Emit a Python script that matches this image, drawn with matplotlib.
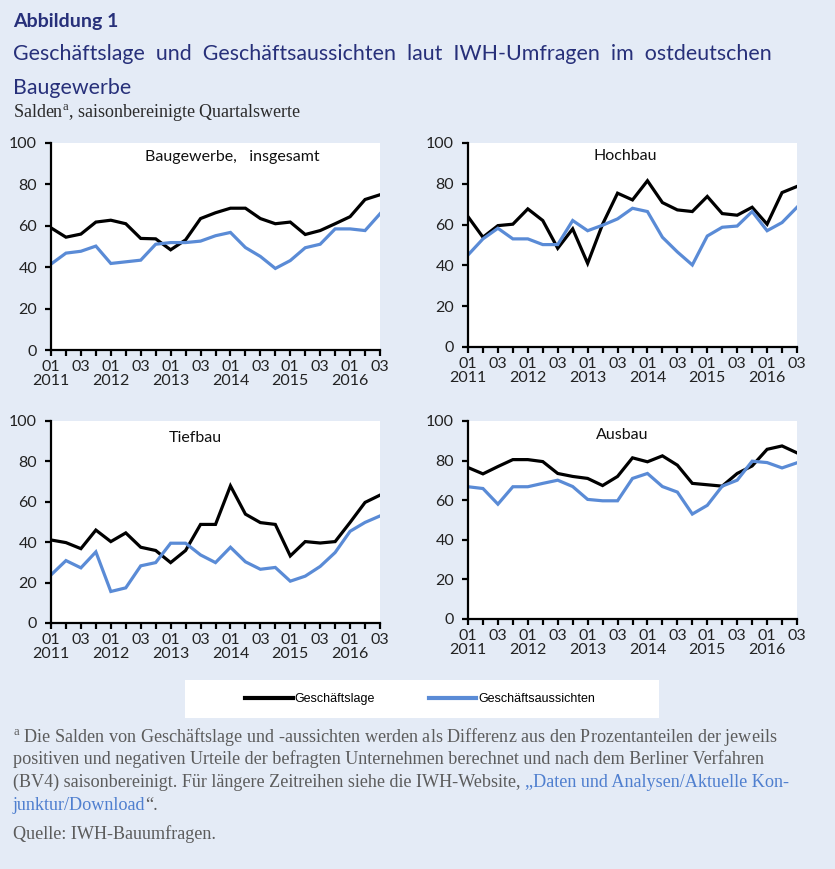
import numpy as np
import matplotlib.pyplot as plt
from matplotlib.patches import Rectangle

W, H = 835, 869

# Quartale 2011 Q1 bis 2016 Q3
quartale = ['2011Q1', '2011Q2', '2011Q3', '2011Q4', '2012Q1', '2012Q2', '2012Q3', '2012Q4',
            '2013Q1', '2013Q2', '2013Q3', '2013Q4', '2014Q1', '2014Q2', '2014Q3', '2014Q4',
            '2015Q1', '2015Q2', '2015Q3', '2015Q4', '2016Q1', '2016Q2', '2016Q3']
tick_labels = ['01\n2011', '03', '01\n2012', '03', '01\n2013', '03',
               '01\n2014', '03', '01\n2015', '03', '01\n2016', '03']

# Baugewerbe insgesamt
bau_lage = [59, 54.5, 56, 61.8, 62.7, 61, 53.9, 53.7, 48.4, 53.2, 63.5, 66.3,
            68.5, 68.5, 63.5, 61, 61.8, 55.8, 57.7, 61, 64.4, 72.7, 75]
bau_auss = [41.5, 46.8, 47.7, 50.2, 41.8, 42.6, 43.4, 51.1, 51.9, 51.9, 52.6, 55.2,
            56.8, 49.5, 45.2, 39.4, 43.2, 49.4, 51.1, 58.5, 58.5, 57.7, 65.8]
# Hochbau
hoch_lage = [63.9, 53.8, 59.5, 60.2, 67.7, 62, 48.4, 57.9, 41, 60.2, 75.4, 72.1,
             81.5, 70.8, 67.2, 66.4, 73.8, 65.4, 64.6, 68.5, 60.2, 75.7, 78.7]
hoch_auss = [45.1, 53, 58.2, 53, 53, 50.2, 50.2, 62, 57, 59.7, 62.8, 68,
             66.4, 53.8, 46.6, 40.2, 54.4, 58.7, 59.3, 66.4, 57, 61, 68.5]
# Tiefbau
tief_lage = [41.1, 39.8, 36.8, 46, 40.3, 44.6, 37.5, 35.9, 29.9, 35.9, 48.8, 48.8,
             67.9, 53.9, 49.7, 48.8, 33.2, 40.3, 39.6, 40.3, 49.8, 59.7, 63.3]
tief_auss = [23.8, 30.9, 27.3, 35.2, 15.6, 17.4, 28.3, 29.9, 39.5, 39.5, 33.7, 29.9,
             37.5, 30.3, 26.6, 27.5, 20.7, 23.2, 28, 34.9, 45.4, 49.8, 53]
# Ausbau
aus_lage = [76.5, 73.3, 77, 80.5, 80.5, 79.5, 73.5, 72, 71, 67.4, 72, 81.4,
            79.4, 82.4, 77.7, 68.5, 67.8, 67.1, 73.5, 77.3, 85.7, 87.4, 83.9]
aus_auss = [66.8, 65.9, 58, 66.8, 66.8, 68.5, 70.1, 66.9, 60.4, 59.7, 59.7, 71,
            73.5, 66.9, 64.1, 53, 57.4, 67.1, 70.1, 79.7, 79, 76.3, 78.9]

titel_panels = ['Baugewerbe,   insgesamt', 'Hochbau', 'Tiefbau', 'Ausbau']

BG = '#e4ebf6'
NAVY = '#27307a'
BLUE = '#5a8bd6'
GREY = '#5c5c5c'
LINK = '#4f7fcf'
SANS = ['Lato', 'DejaVu Sans']
SERIF = ['Liberation Serif', 'DejaVu Serif']

plt.rcParams['mathtext.fontset'] = 'custom'
plt.rcParams['mathtext.rm'] = 'Liberation Serif'


def px(x, y):
    return x / W, 1 - y / H


def panel(fig, box, lage, auss, titel, tpos):
    x0, y0, x1, y1 = box
    ax = fig.add_axes([x0 / W, 1 - y1 / H, (x1 - x0) / W, (y1 - y0) / H])
    ax.set_facecolor('white')
    x = np.arange(len(quartale))
    l1, = ax.plot(x, lage, color='black', lw=2.3, solid_joinstyle='miter')
    l2, = ax.plot(x, auss, color=BLUE, lw=2.3, solid_joinstyle='miter')
    ax.set_xlim(0, len(quartale) - 1)
    ax.set_ylim(0, 100)
    ax.set_yticks(np.arange(0, 101, 20))
    ax.set_xticks(x, minor=True)
    ax.set_xticks(x[::2], tick_labels)
    for s in ['top', 'right']:
        ax.spines[s].set_visible(False)
    for s in ['left', 'bottom']:
        ax.spines[s].set_linewidth(1.6)
    ax.tick_params(axis='both', which='both', direction='out', length=4, width=1.6,
                   labelsize=11.5, labelcolor='#222222')
    ax.tick_params(axis='x', pad=3)
    ax.tick_params(axis='y', pad=6)
    for lab in ax.get_xticklabels() + ax.get_yticklabels():
        lab.set_family(SANS)
        lab.set_linespacing(1.0)
    ax.text(tpos[0], tpos[1], titel, transform=ax.transAxes, ha='center', va='center',
            fontsize=11.5, family=SANS, color='#111111')
    return l1, l2


fig = plt.figure(figsize=(W / 100, H / 100), dpi=100, facecolor=BG)

# Ueberschriften
fig.text(*px(13, 22), 'Abbildung 1', fontsize=14, fontweight='bold', color=NAVY,
         family=SANS, va='center')
fig.text(*px(13, 54), 'Geschäftslage  und  Geschäftsaussichten  laut  IWH-Umfragen  im  ostdeutschen',
         fontsize=15.4, color=NAVY, family=SANS, va='center')
fig.text(*px(13, 88), 'Baugewerbe', fontsize=15.4, color=NAVY, family=SANS, va='center')
fig.text(*px(13, 113), r'Salden$^{\mathrm{a}}$, saisonbereinigte Quartalswerte', fontsize=13,
         color='#2b2b2b', family=SERIF, va='center')

l1, l2 = panel(fig, (51, 143, 380, 350), bau_lage, bau_auss, titel_panels[0], (0.55, 0.93))
panel(fig, (468, 143, 797, 347), hoch_lage, hoch_auss, titel_panels[1], (0.477, 0.937))
panel(fig, (51, 421, 380, 623), tief_lage, tief_auss, titel_panels[2], (0.44, 0.915))
panel(fig, (468, 421, 797, 619), aus_lage, aus_auss, titel_panels[3], (0.47, 0.928))

# Legende im weissen Kasten
fig.patches.append(Rectangle(px(185, 718), (659 - 185) / W, (718 - 680) / H,
                             transform=fig.transFigure, facecolor='white', edgecolor='none'))
leg = fig.legend([l1, l2], ['Geschäftslage', 'Geschäftsaussichten'], loc='center',
                 bbox_to_anchor=px(420, 699), ncol=2, frameon=False, handlelength=3.8,
                 handletextpad=0.15, columnspacing=4.3,
                 prop={'family': ['Liberation Sans Narrow', 'Liberation Sans'], 'size': 9})
for h in leg.get_lines():
    h.set_linewidth(3)

# Fussnote
fs = 13.1
fig.text(*px(13, 737), r'$^{\mathrm{a}}$ Die Salden von Geschäftslage und -aussichten werden als '
         'Differenz aus den Prozentanteilen der jeweils', fontsize=fs, color=GREY,
         family=SERIF, va='center')
fig.text(*px(13, 759), 'positiven und negativen Urteile der befragten Unternehmen berechnet und '
         'nach dem Berliner Verfahren', fontsize=fs, color=GREY, family=SERIF, va='center')
t = fig.text(*px(13, 782), '(BV4) saisonbereinigt. Für längere Zeitreihen siehe die IWH-Website, ',
             fontsize=fs, color=GREY, family=SERIF, va='center')
plt.annotate('„Daten und Analysen/Aktuelle Kon-', xy=(1, 0), xycoords=t, va='bottom',
             fontsize=fs, color=LINK, family=SERIF)
t = fig.text(*px(13, 805), 'junktur/Download', fontsize=fs, color=LINK, family=SERIF, va='center')
plt.annotate('“.', xy=(1, 0), xycoords=t, va='bottom', fontsize=fs, color=GREY, family=SERIF)
fig.text(*px(13, 834), 'Quelle: IWH-Bauumfragen.', fontsize=fs, color=GREY, family=SERIF,
         va='center')

fig.savefig('out.png', dpi=100, facecolor=BG)
